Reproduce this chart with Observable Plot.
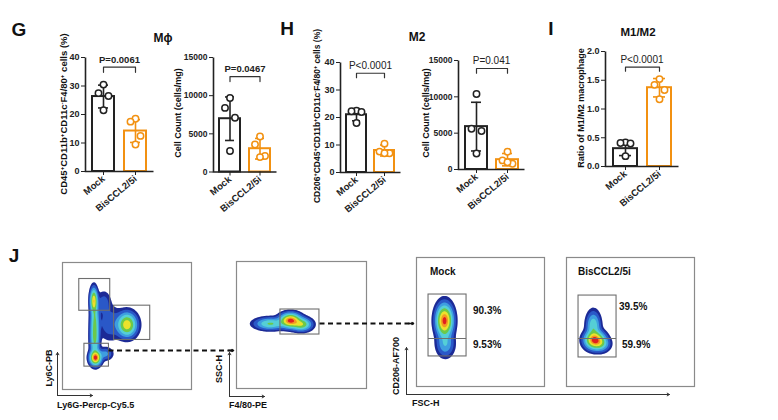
<!DOCTYPE html>
<html>
<head>
<meta charset="utf-8">
<script src="https://cdn.jsdelivr.net/npm/d3@7"></script>
<script src="https://cdn.jsdelivr.net/npm/@observablehq/plot@0.6"></script>
<style>
  body { margin: 0; background: #fff; }
  #root { position: relative; width: 778px; height: 420px; overflow: hidden; background: #fff;
          font-family: "Liberation Sans", Arial, sans-serif; color: #111; }
  #root sup { font-size: 65%; vertical-align: 0.55em; line-height: 0; }
</style>
</head>
<body>
<div id="root"></div>
<script>
// ---------------- DATA ----------------
const groups = ["Mock", "BisCCL2/5i"];
const groupColors = ["#222222", "#f29111"];

// G – Mϕ, % of CD45+ cells
const gPctMean = [26.3, 14.2];
const gPctSD = [4.0, 4.0];
const gPctPts = [[30.5, 27.5, 26.5, 21.5], [18.5, 17.5, 12.5, 9.5]];
// G – Mϕ, cell count
const gCntMean = [6980, 3050];
const gCntSD = [2850, 1350];
const gCntPts = [[9700, 8400, 7100, 2750], [4650, 3600, 2100, 1950]];
// H – M2, %
const hPctMean = [21.0, 8.0];
const hPctSD = [2.2, 2.0];
const hPctPts = [[22.5, 22.3, 22.0, 18.0], [10.5, 7.6, 7.0, 7.0]];
// H – M2, cell count
const hCntMean = [5900, 1350];
const hCntSD = [3350, 850];
const hCntPts = [[10400, 5600, 5300, 2200], [2450, 1250, 800, 1000]];
// I – M1/M2 ratio
const iMean = [0.31, 1.37];
const iSD = [0.12, 0.16];
const iPts = [[0.42, 0.41, 0.40, 0.18], [1.52, 1.42, 1.33, 1.17]];

const pTexts = ["P=0.0061", "P=0.0467", "P<0.0001", "P=0.041", "P<0.0001"];
const pctTicks = [0, 10, 20, 30, 40];
const cntTicks = [0, 5000, 10000, 15000];
const ratioTicks = [0, 0.5, 1.0, 1.5, 2.0];

// J – flow gates (x1,x2,y1,y2 in % of plot frame)
const p1Gates = [[13, 37, 62, 87], [40, 68, 39, 66], [17, 36, 18, 36]];
const p2Gates = [[33.8, 63.8, 42.5, 62.2]];
const p3Gates = [[9.4, 39.1, 23.3, 71.3]];
const p4Gates = [[9.4, 39.1, 22.5, 70.5]];
const p3Split = [37.2];
const p4Split = [37.2];
// J – density components [cx, cy, sx, sy, weight]
const p1Blobs = [[24.3, 70, 1.5, 5, 0.7], [25, 55, 1.8, 8, 0.3], [25, 40, 1.9, 8, 0.35], [25.6, 25, 2.3, 3.0, 1.0],
                 [33, 28, 3, 2.5, 0.12], [50, 51, 3.9, 4.8, 0.68], [37, 52, 5, 7, 0.07], [32, 68, 3, 5, 0.06]];
const p2Blobs = [[41.5, 53.5, 4.2, 2.9, 1.0], [50, 50.5, 4, 2.6, 0.5], [26, 51, 6, 2.4, 0.35]];
const p3Blobs = [[21.9, 51, 3.4, 6.4, 1.0], [22.5, 33, 3.5, 5, 0.18]];
const p4Blobs = [[22, 36, 4, 3.6, 1.0], [21, 47, 2.8, 5.5, 0.3], [27, 33, 3.5, 3, 0.25]];
const p3Pcts = ["90.3%", "9.53%"];
const p4Pcts = ["39.5%", "59.9%"];
const flowLevels = [0.011, 0.034, 0.089, 0.18, 0.325, 0.516, 0.726, 0.904];
const flowColors = ["#1c2a96", "#2a58c8", "#3e9ee0", "#55cfd6", "#6cc94a", "#ebe22c", "#f39a22", "#e11f1f"];

// ---------------- HELPERS ----------------
const root = document.getElementById("root");
const FONT = "'Liberation Sans', Arial, sans-serif";

function label(html, x, y, {size = 10, weight = "bold", rotate = 0, anchor = "middle"} = {}) {
  const d = document.createElement("div");
  d.innerHTML = html;
  const tx = anchor === "start" ? "0" : "-50%";
  d.style.cssText = `position:absolute;left:${x}px;top:${y}px;white-space:nowrap;font-size:${size}px;` +
    `font-weight:${weight};line-height:1;color:#111;transform:translate(${tx},-50%) rotate(${rotate}deg);`;
  root.appendChild(d);
}
function place(svg, left, top) {
  svg.style.position = "absolute";
  svg.style.left = left + "px";
  svg.style.top = top + "px";
  root.appendChild(svg);
}

function barChart({axisX, endX, topY, zeroY, yMax, ticks, fmt, mean, sd, pts, bY, bDrop, pText, pY, pBold, tickSize = 9}) {
  const mL = 42, mT = 18, mR = 8, mB = 62;
  const W = endX - axisX, H = zeroY - topY;
  const width = W + mL + mR, height = H + mT + mB;
  const summary = groups.map((g, i) => ({g, mean: mean[i], lo: mean[i] - sd[i], hi: mean[i] + sd[i], c: groupColors[i]}));
  const points = groups.flatMap((g, i) => pts[i].map((v, j) => ({g, v, j, c: groupColors[i]})));
  const jitter = [0, -5, 5, 0];
  const bracket = [
    {g: groups[0], y: bY - bDrop}, {g: groups[0], y: bY},
    {g: groups[1], y: bY}, {g: groups[1], y: bY - bDrop}
  ];
  const svg = Plot.plot({
    width, height, marginLeft: mL, marginTop: mT, marginRight: mR, marginBottom: mB,
    style: {fontFamily: FONT, fontSize: tickSize + "px", fontWeight: "bold", color: "#222", background: "transparent", overflow: "visible"},
    x: {type: "band", domain: groups, paddingInner: 0.3, paddingOuter: 0.2, label: null},
    y: {domain: [0, yMax], label: null},
    marks: [
      Plot.barY(summary, {x: "g", y: "mean", fill: "white", stroke: "c", strokeWidth: 2}),
      Plot.ruleX(summary, {x: "g", y1: "lo", y2: "hi", stroke: "c", strokeWidth: 1.6}),
      Plot.tickY(summary, {x: "g", y: "hi", stroke: "c", strokeWidth: 1.6, insetLeft: 6, insetRight: 6}),
      Plot.tickY(summary, {x: "g", y: "lo", stroke: "c", strokeWidth: 1.6, insetLeft: 6, insetRight: 6}),
      ...jitter.map((dx, j) => Plot.dot(points.filter(p => p.j === j),
        {x: "g", y: "v", dx, r: 3.2, stroke: "c", strokeWidth: 1.5, fill: "white"})),
      Plot.line(bracket, {x: "g", y: "y", stroke: "#333", strokeWidth: 1.2}),
      Plot.text([pText], {y: () => pY, text: d => d, frameAnchor: "middle",
        fontSize: pBold ? 9.5 : 10, fontWeight: pBold ? "bold" : "normal", fill: "#222"}),
      Plot.frame({stroke: "#222", strokeWidth: 1.6, strokeDasharray: `0 ${W + H} ${W + H}`}),
      Plot.axisY({ticks, tickSize: 4, tickPadding: 2, tickFormat: fmt, label: null}),
      Plot.axisX({tickRotate: -40, tickSize: 4, tickPadding: 2, label: null, fontSize: 9.5})
    ]
  });
  place(svg, axisX - mL, topY - mT);
}

function density(blobs) {
  return (x, y) => {
    let s = 0;
    for (const [cx, cy, sx, sy, w] of blobs) {
      const dx = (x - cx) / sx, dy = (y - cy) / sy;
      s += w * Math.exp(-0.5 * (dx * dx + dy * dy));
    }
    return s;
  };
}

function flowPanel({frame, box, blobs, gates, splits = [], axes = [], dashes = []}) {
  const [fx0, fx1, fy0, fy1] = frame;
  const [bx0, bx1, by0, by1] = box;
  const ux = px => (px - fx0) / (fx1 - fx0) * 100;
  const uy = py => (fy1 - py) / (fy1 - fy0) * 100;
  const conv = a => ({x1: ux(a[0]), y1: uy(a[1]), x2: ux(a[2]), y2: uy(a[3])});
  const axisArrows = axes.map(conv);
  const dashLines = dashes.map(conv);
  const dashHeads = dashes.map(a => conv([a[2] - 5, a[3], a[2], a[3]]));
  const gateRects = gates.map(([x1, x2, y1, y2]) => ({x1, x2, y1, y2}));
  const splitRules = splits.map((y, i) => ({y, x1: gates[i][0], x2: gates[i][1]}));
  const svg = Plot.plot({
    width: bx1 - bx0, height: by1 - by0,
    marginLeft: fx0 - bx0, marginRight: bx1 - fx1, marginTop: fy0 - by0, marginBottom: by1 - fy1,
    style: {background: "transparent", overflow: "visible"},
    x: {domain: [0, 100], axis: null},
    y: {domain: [0, 100], axis: null},
    color: {type: "threshold", domain: flowLevels.slice(1), range: flowColors},
    marks: [
      Plot.contour({x1: 0, x2: 100, y1: 0, y2: 100, fill: density(blobs), thresholds: flowLevels, stroke: "none", pixelSize: 1}),
      Plot.frame({stroke: "#8a8a8a", strokeWidth: 1.2}),
      Plot.rect(gateRects, {x1: "x1", x2: "x2", y1: "y1", y2: "y2", fill: "none", stroke: "#6e6e6e", strokeWidth: 1.1}),
      Plot.ruleY(splitRules, {y: "y", x1: "x1", x2: "x2", stroke: "#6e6e6e", strokeWidth: 1.1}),
      Plot.arrow(axisArrows, {x1: "x1", y1: "y1", x2: "x2", y2: "y2", stroke: "#333", strokeWidth: 1, headLength: 4}),
      Plot.link(dashLines, {x1: "x1", y1: "y1", x2: "x2", y2: "y2", stroke: "#111", strokeWidth: 1.8, strokeDasharray: "5,3.5"}),
      Plot.arrow(dashHeads, {x1: "x1", y1: "y1", x2: "x2", y2: "y2", stroke: "#111", strokeWidth: 1.6, headLength: 6})
    ]
  });
  place(svg, bx0, by0);
}

// ---------------- BAR CHARTS ----------------
barChart({axisX: 85, endX: 153, topY: 57, zeroY: 171, yMax: 40, ticks: pctTicks, fmt: d => String(d),
  mean: gPctMean, sd: gPctSD, pts: gPctPts, bY: 36.6, bDrop: 1.8, pText: pTexts[0], pY: 39.3, pBold: true});
barChart({axisX: 213, endX: 276, topY: 56.5, zeroY: 171, yMax: 15000, ticks: cntTicks, fmt: d => String(d),
  mean: gCntMean, sd: gCntSD, pts: gCntPts, bY: 12500, bDrop: 650, pText: pTexts[1], pY: 13500, pBold: true, tickSize: 8.5});
barChart({axisX: 340, endX: 400, topY: 62, zeroY: 172, yMax: 40, ticks: pctTicks, fmt: d => String(d),
  mean: hPctMean, sd: hPctSD, pts: hPctPts, bY: 36.1, bDrop: 1.6, pText: pTexts[2], pY: 38.9, pBold: false});
barChart({axisX: 458, endX: 524, topY: 60, zeroY: 169, yMax: 15000, ticks: cntTicks, fmt: d => String(d),
  mean: hCntMean, sd: hCntSD, pts: hCntPts, bY: 13900, bDrop: 650, pText: pTexts[3], pY: 14900, pBold: false, tickSize: 8.5});
barChart({axisX: 605, endX: 678, topY: 51, zeroY: 166, yMax: 2, ticks: ratioTicks, fmt: d3.format(".1f"),
  mean: iMean, sd: iSD, pts: iPts, bY: 1.727, bDrop: 0.07, pText: pTexts[4], pY: 1.86, pBold: false});

// panel letters & titles
label("G", 19, 29, {size: 19});
label("H", 287, 28, {size: 19});
label("I", 551, 28, {size: 19});
label("J", 14, 255, {size: 19});
label("Mϕ", 163, 38, {size: 12});
label("M2", 417, 37, {size: 12});
label("M1/M2", 638, 33, {size: 11.5});

// y-axis titles
label("CD45<sup>+</sup>CD11b<sup>+</sup>CD11c<sup>-</sup>F4/80<sup>+</sup> cells (%)", 63.5, 113.5, {size: 9.5, rotate: -90});
label("Cell Count (cells/mg)", 178, 112.5, {size: 9, rotate: -90});
label("CD206<sup>+</sup>CD45<sup>+</sup>CD11b<sup>+</sup>CD11c<sup>-</sup>F4/80<sup>+</sup> cells (%)", 316.5, 116, {size: 8.5, rotate: -90});
label("Cell Count (cells/mg)", 426, 113, {size: 9, rotate: -90});
label("Ratio of M1/M2 macrophage", 581, 108, {size: 9, rotate: -90});

// ---------------- FLOW PANELS (J) ----------------
flowPanel({frame: [62, 191, 262, 389], box: [30, 245, 245, 420], blobs: p1Blobs, gates: p1Gates,
  axes: [[57, 395, 57, 352], [57, 395, 92, 395]], dashes: [[108, 350, 233, 350]]});
flowPanel({frame: [236, 366, 261, 388], box: [205, 420, 245, 420], blobs: p2Blobs, gates: p2Gates,
  axes: [[229, 396, 229, 352], [229, 396, 264, 396]], dashes: [[319, 323, 413, 323]]});
flowPanel({frame: [416, 544, 257, 386], box: [385, 700, 245, 420], blobs: p3Blobs, gates: p3Gates, splits: p3Split,
  axes: [[406, 394, 406, 347], [406, 394, 669, 394]]});
flowPanel({frame: [566, 694, 257, 386], box: [550, 720, 245, 420], blobs: p4Blobs, gates: p4Gates, splits: p4Split});

label("Ly6C-PB", 48.5, 368, {size: 9, rotate: -90});
label("Ly6G-Percp-Cy5.5", 57, 405, {size: 9, anchor: "start"});
label("SSC-H", 219, 369, {size: 9, rotate: -90});
label("F4/80-PE", 229, 405, {size: 9, anchor: "start"});
label("CD206-AF700", 396, 366, {size: 9, rotate: -90});
label("FSC-H", 412, 403, {size: 9, anchor: "start"});
label(groups[0], 430, 272, {size: 10, anchor: "start"});
label(groups[1], 578, 272, {size: 10, anchor: "start"});
label(p3Pcts[0], 473, 311, {size: 10, anchor: "start"});
label(p3Pcts[1], 473, 345, {size: 10, anchor: "start"});
label(p4Pcts[0], 619, 307, {size: 10, anchor: "start"});
label(p4Pcts[1], 622, 345, {size: 10, anchor: "start"});
</script>
</body>
</html>
